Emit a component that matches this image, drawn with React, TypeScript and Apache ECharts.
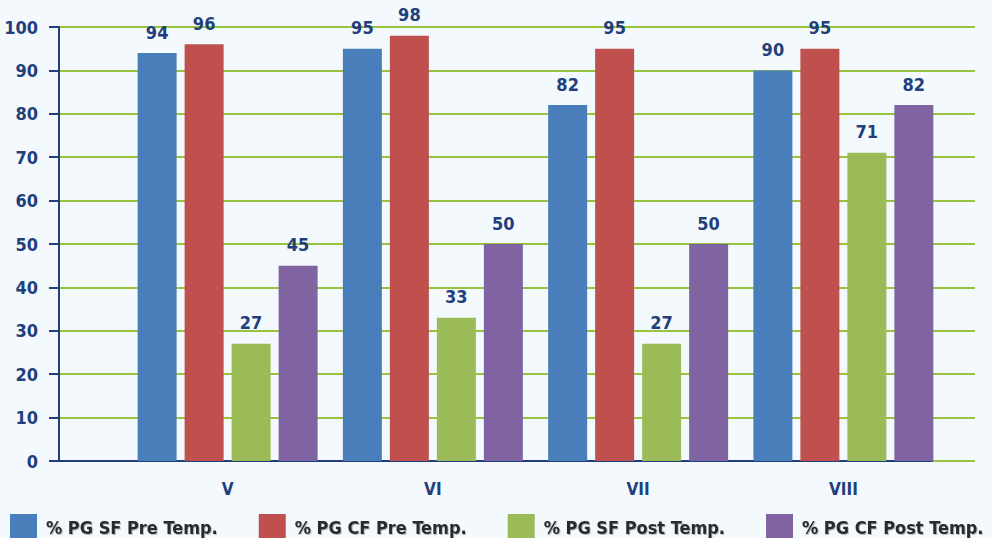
import React, { useEffect, useRef } from "react";
import * as echarts from "echarts";

const categories = ["V", "VI", "VII", "VIII"];
const seriesNames = ["% PG SF Pre Temp.", "% PG CF Pre Temp.", "% PG SF Post Temp.", "% PG CF Post Temp."];
const sfPre = [94, 95, 82, 90];
const cfPre = [96, 98, 95, 95];
const sfPost = [27, 33, 27, 71];
const cfPost = [45, 50, 50, 82];
const colors = ["#4a7ebb", "#c0504d", "#9bbb59", "#8064a2"];

const NAVY = "#213f7c";
const FONT = "'DejaVu Sans Condensed', 'Liberation Sans Narrow', Arial, sans-serif";

export default function App() {
  const ref = useRef<HTMLDivElement>(null);
  useEffect(() => {
    if (!ref.current) return;
    const chart = echarts.init(ref.current, undefined, { renderer: "svg" });
    const values = [sfPre, cfPre, sfPost, cfPost];
    chart.setOption({
      animation: false,
      backgroundColor: "#f4f9fd",
      grid: [
        { left: 59, right: 60, top: 27, bottom: 77 },
        { left: 59, right: 17, top: 27, bottom: 77 },
        { left: 125, right: 46, top: 27, bottom: 77 },
      ],
      xAxis: [
        {
          gridIndex: 0, type: "value", min: 0, max: 1,
          axisLine: { show: true, lineStyle: { color: NAVY, width: 2 } },
          axisTick: { show: false }, axisLabel: { show: false }, splitLine: { show: false },
        },
        { gridIndex: 1, type: "value", show: false },
        {
          gridIndex: 2, type: "category", data: categories,
          axisLine: { show: false }, axisTick: { show: false },
          axisLabel: { color: NAVY, fontWeight: "bold", fontSize: 17, fontFamily: FONT, margin: 19 },
        },
      ],
      yAxis: [
        {
          gridIndex: 0, type: "value", min: 0, max: 100, interval: 10,
          axisLine: { show: true, lineStyle: { color: NAVY, width: 2 } },
          axisTick: { show: true, length: 10, lineStyle: { color: NAVY, width: 2 } },
          axisLabel: { color: NAVY, fontWeight: "bold", fontSize: 18, fontFamily: FONT, margin: 21 },
          splitLine: { show: false },
        },
        {
          gridIndex: 1, type: "value", min: 0, max: 100, interval: 10,
          axisLine: { show: false }, axisTick: { show: false }, axisLabel: { show: false },
          splitLine: { show: true, lineStyle: { color: "#98c33d", width: 2 } },
        },
        { gridIndex: 2, type: "value", min: 0, max: 100, show: false },
      ],
      legend: {
        top: 514,
        left: 10,
        padding: 0,
        itemWidth: 27,
        itemHeight: 26,
        itemGap: 41,
        icon: "rect",
        textStyle: {
          color: "#2b2b2b", fontWeight: "bold", fontSize: 18, fontFamily: FONT, padding: [0, 0, 0, 4],
          textShadowColor: "rgba(0,0,0,0.25)", textShadowBlur: 1, textShadowOffsetX: 1, textShadowOffsetY: 1,
        },
        data: seriesNames,
      },
      series: seriesNames.map((name, i) => ({
        name,
        type: "bar",
        xAxisIndex: 2,
        yAxisIndex: 2,
        data: values[i],
        barWidth: 39,
        barGap: "20.5%",
        itemStyle: { color: colors[i] },
        z: 3,
        label: {
          show: true, position: "top", distance: 12,
          color: NAVY, fontWeight: "bold", fontSize: 18, fontFamily: FONT,
        },
      })),
    });
    return () => chart.dispose();
  }, []);
  return <div ref={ref} style={{ position: "fixed", left: 0, top: 0, width: 992, height: 538 }} />;
}
